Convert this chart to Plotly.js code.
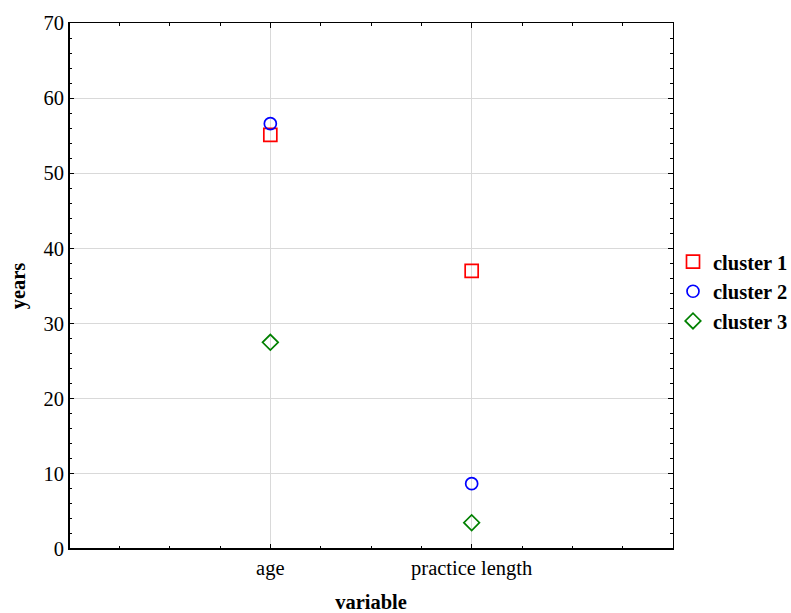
<!DOCTYPE html>
<html>
<head>
<meta charset="utf-8">
<script src="https://cdn.plot.ly/plotly-3.0.1.min.js"></script>
<style>html,body{margin:0;padding:0;background:#fff;}#chart{width:791px;height:613px;}</style>
</head>
<body>
<div id="chart"></div>
<script>
const categories = ["age", "practice length"];
const categoryPositions = [0, 1];
const seriesNames = ["cluster 1", "cluster 2", "cluster 3"];
const cluster1 = [55.1, 37.0];
const cluster2 = [56.6, 8.7];
const cluster3 = [27.5, 3.5];
const yTicks = [0, 10, 20, 30, 40, 50, 60, 70];

const styles = [
  {symbol: "square-open", color: "#ff0000", size: 13},
  {symbol: "circle-open", color: "#0000ff", size: 12},
  {symbol: "diamond-open", color: "#008000", size: 12}
];
const values = [cluster1, cluster2, cluster3];

const data = values.map((v, i) => ({
  type: "scatter",
  mode: "markers",
  name: seriesNames[i],
  x: categoryPositions,
  y: v,
  marker: {symbol: styles[i].symbol, size: styles[i].size, color: styles[i].color, line: {width: 1.7, color: styles[i].color}},
  hoverinfo: "x+y"
}));

const font = "Liberation Serif, Times New Roman, serif";
const fs = 20.5;

const layout = {
  width: 791,
  height: 613,
  margin: {l: 69, r: 118, t: 23, b: 64, autoexpand: false},
  paper_bgcolor: "#fff",
  plot_bgcolor: "#fff",
  font: {family: font, size: fs, color: "#000"},
  showlegend: true,
  legend: {
    x: 1.0, xanchor: "left", y: 0.49, yanchor: "middle",
    font: {family: font, size: 20.5, color: "#000", weight: "bold"},
    bgcolor: "rgba(0,0,0,0)", borderwidth: 0, tracegroupgap: 0
  },
  xaxis: {
    range: [-1, 2],
    tickvals: categoryPositions,
    ticktext: categories,
    showgrid: true, gridcolor: "#d9d9d9", gridwidth: 1,
    zeroline: false,
    showline: true, linecolor: "#000", linewidth: 1, mirror: "ticks",
    ticks: "inside", ticklen: 5, tickcolor: "#000", tickwidth: 1,
    minor: {dtick: 0.25, tick0: 0, ticks: "inside", ticklen: 3, tickcolor: "#000", showgrid: false},
    tickfont: {family: font, size: fs, color: "#000"},
    automargin: false,
    title: {text: "variable", font: {family: font, size: fs, color: "#000", weight: "bold"}, standoff: 19}
  },
  yaxis: {
    range: [0, 70],
    tickvals: yTicks,
    showgrid: true, gridcolor: "#d9d9d9", gridwidth: 1,
    zeroline: false,
    showline: true, linecolor: "#000", linewidth: 1, mirror: "ticks",
    ticks: "inside", ticklen: 5, tickcolor: "#000", tickwidth: 1,
    minor: {dtick: 2, tick0: 0, ticks: "inside", ticklen: 3, tickcolor: "#000", showgrid: false},
    tickfont: {family: font, size: fs, color: "#000"},
    automargin: false,
    title: {text: "years", font: {family: font, size: fs, color: "#000", weight: "bold"}, standoff: 12}
  },
  shapes: [
    {type: "line", xref: "paper", yref: "paper", x0: 0, x1: 0, y0: 0, y1: 1, line: {color: "#000", width: 2}},
    {type: "line", xref: "paper", yref: "paper", x0: 0, x1: 1, y0: 0, y1: 0, line: {color: "#000", width: 2}}
  ]
};

Plotly.newPlot("chart", data, layout, {displayModeBar: false, staticPlot: true});
</script>
</body>
</html>
